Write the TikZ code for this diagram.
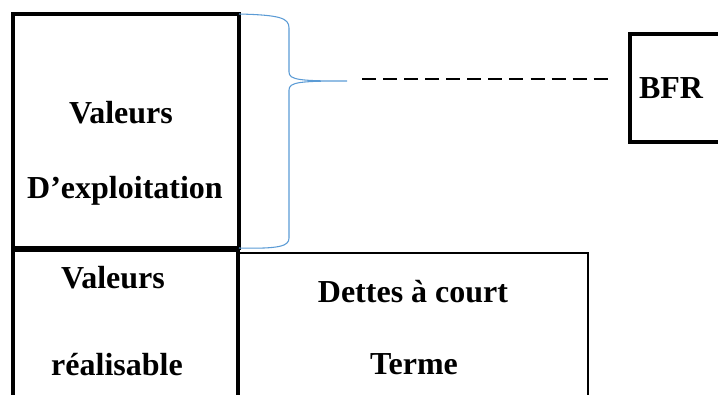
\documentclass[tikz,border=0pt]{standalone}
\usepackage{fontspec}
\setmainfont{Liberation Serif}
\definecolor{braceblue}{RGB}{91,155,213}

\begin{document}
\begin{tikzpicture}
  [x=0.75pt,y=-0.75pt,every node/.style={rectangle,inner sep=0pt,outer sep=0pt},
   box/.style={draw,line width=3pt},
   thinbox/.style={draw,line width=1.5pt},
   lbl/.style={anchor=base,font=\fontsize{24}{28}\selectfont\bfseries}]
  \useasboundingbox (0,0) rectangle (718,394);
  \clip (0,0) rectangle (718,394);

  \node[thinbox,minimum width=262.5pt,minimum height=132.75pt] (DCT) at (413,341.5) {};
  \node[box,minimum width=169.5pt,minimum height=175.5pt] (VE) at (126,131) {};
  \node[box,minimum width=168.75pt,minimum height=135pt] (VR) at (125.5,340) {};
  \node[box,minimum width=82.5pt,minimum height=81pt] (BFR) at (685,88) {};

  \node[lbl] (VE_1) at (121,123) {Valeurs};
  \node[lbl] (VE_2) at (125,198) {D’exploitation};
  \node[lbl] (VR_1) at (113,288) {Valeurs};
  \node[lbl] (VR_2) at (117,375) {réalisable};
  \node[lbl] (DCT_1) at (413,302) {Dettes à court};
  \node[lbl] (DCT_2) at (414,374) {Terme};
  \node[lbl] (BFR_1) at (671,98) {BFR};

  \coordinate (tip) at (347,81);
  \coordinate (dash_S) at (362,79);
  \coordinate (dash_E) at (609,79);

  \draw[braceblue,line width=0.8pt]
    (VE.north east) .. controls (280,15) and (289,18) .. (289,28) -- (289,72)
    .. controls (289,80) and (300,81) .. (tip)
    .. controls (300,81) and (289,82) .. (289,90) -- (289,238)
    .. controls (289,246) and (280,249) .. (VE.south east);
  \draw[line width=1.1pt,dash pattern=on 10.5pt off 5.3pt] (dash_S) -- (dash_E);

\end{tikzpicture}
\end{document}
